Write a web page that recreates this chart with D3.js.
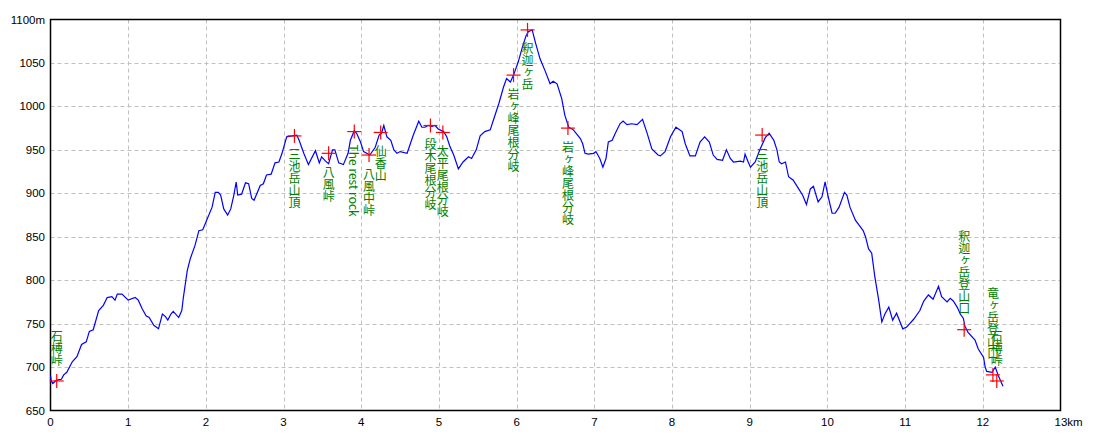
<!DOCTYPE html>
<html><head><meta charset="utf-8">
<script src="https://cdn.jsdelivr.net/npm/d3@7"></script>
<style>
html,body{margin:0;padding:0;background:#fff;}
svg{display:block;}
.tick{font-family:"Liberation Sans",Arial,sans-serif;font-size:11.5px;fill:#000;}
.wp{font-family:"Noto Sans CJK JP",sans-serif;font-size:12px;fill:#008000;writing-mode:vertical-rl;}
</style></head>
<body>
<svg id="c" width="1100" height="440"></svg>
<script>
// profile distance (km)
const distKm = [0.00,0.01,0.03,0.08,0.14,0.17,0.21,0.28,0.34,0.40,0.46,0.50,0.55,0.62,0.68,0.73,0.79,0.83,0.86,0.92,
1.00,1.09,1.13,1.18,1.23,1.27,1.33,1.39,1.44,1.48,1.51,1.55,1.58,1.65,1.69,1.71,1.76,1.80,1.86,1.91,1.96,
2.01,2.08,2.12,2.16,2.19,2.23,2.28,2.32,2.36,2.39,2.41,2.46,2.51,2.55,2.59,2.62,2.70,2.74,2.78,2.84,2.89,2.94,2.98,
3.04,3.11,3.17,3.20,3.26,3.32,3.41,3.46,3.49,3.54,3.58,3.63,3.66,3.71,3.77,3.83,3.86,3.91,3.94,3.99,
4.03,4.11,4.18,4.23,4.26,4.29,4.33,4.38,4.42,4.46,4.50,4.59,4.67,4.74,4.78,4.82,4.86,4.91,4.95,4.99,
5.06,5.10,5.14,5.19,5.25,5.31,5.38,5.42,5.48,5.53,5.59,5.66,5.70,5.77,5.83,5.87,5.92,5.96,
6.02,6.07,6.12,6.15,6.20,6.24,6.30,6.37,6.43,6.47,6.52,6.58,6.62,6.67,6.73,6.82,6.85,6.88,6.92,6.99,
7.02,7.07,7.11,7.15,7.18,7.23,7.27,7.33,7.37,7.42,7.48,7.55,7.62,7.68,7.74,7.82,7.85,7.91,7.98,
8.05,8.13,8.17,8.23,8.30,8.36,8.42,8.48,8.53,8.58,8.65,8.70,8.75,8.79,8.88,8.92,8.94,8.98,
9.01,9.07,9.13,9.20,9.25,9.31,9.35,9.38,9.41,9.46,9.50,9.56,9.63,9.68,9.73,9.78,9.82,9.88,9.93,9.97,
10.01,10.06,10.10,10.15,10.22,10.25,10.29,10.36,10.41,10.46,10.49,10.53,10.57,10.61,10.66,10.70,10.74,10.79,10.84,10.89,10.97,
11.02,11.11,11.19,11.24,11.30,11.36,11.43,11.47,11.54,11.58,11.62,11.67,11.71,11.75,11.77,11.81,11.90,11.94,
12.01,12.03,12.05,12.12,12.16,12.20,12.26];
// profile elevation (m)
const elevM = [690,684,681,685,686,691,694,706,712,726,729,741,743,765,771,780,781,777,784,784,
777,780,777,767,759,757,748,744,761,758,754,761,764,757,765,780,811,825,840,857,858,
869,884,901,901,898,882,875,882,898,913,898,899,912,911,894,892,909,911,921,922,935,936,946,
965,966,967,961,946,933,949,935,942,937,934,950,950,935,933,946,961,972,969,959,
948,944,953,967,969,978,965,961,950,946,948,946,967,983,976,976,978,977,978,974,
971,965,954,944,928,936,942,940,950,966,971,973,984,1003,1022,1032,1028,1036,
1051,1067,1081,1086,1088,1074,1055,1040,1026,1029,1026,1009,990,976,973,963,957,946,945,946,
948,940,930,940,959,961,969,980,983,979,980,979,985,969,951,944,943,948,965,
976,971,957,943,943,959,965,959,944,939,938,950,940,936,937,936,945,936,
930,936,950,964,969,961,950,936,934,936,919,915,905,898,887,905,908,890,896,913,
896,877,877,884,901,898,884,869,863,857,850,836,831,804,777,752,761,769,754,762,744,
746,755,765,776,783,778,793,781,775,779,776,769,761,756,747,740,731,721,
711,700,695,694,700,690,678];
// waypoints
const wpNames = ["石榑峠","三池岳山頂","八風峠","The rest rock","八風中峠","仙香山","段木尾根分岐","太平尾根分岐",
"岩ヶ峰尾根分岐","釈迦ヶ岳","岩ヶ峰尾根分岐","三池岳山頂","釈迦ヶ岳登山口","竜ヶ岳登山口","石榑峠"];
const wpKm = [0.08,3.14,3.58,3.91,4.10,4.25,4.89,5.05,5.96,6.14,6.66,9.16,11.76,12.13,12.18];
const wpElev = [684,966,946,971,944,970,978,970,1036,1088,975,967,743,691,684];
// axis ticks
const xTickVals = [0,1,2,3,4,5,6,7,8,9,10,11,12,13];
const yTickVals = [650,700,750,800,850,900,950,1000,1050,1100];

const svg = d3.select("#c");
const L=50.5, R=1060.5, T=19.5, B=410.5;
const x = d3.scaleLinear().domain([0,13]).range([L,R]);
const y = d3.scaleLinear().domain([650,1100]).range([B,T]);

// grid
const g = svg.append("g");
g.selectAll("line.vx").data(xTickVals.slice(1,-1)).join("line")
  .attr("x1",d=>Math.round(x(d))+0.5).attr("x2",d=>Math.round(x(d))+0.5).attr("y1",T).attr("y2",B)
  .attr("stroke","#c0c0c0").attr("stroke-dasharray","4,3");
g.selectAll("line.hy").data(yTickVals.slice(1,-1)).join("line")
  .attr("y1",d=>Math.round(y(d))+0.5).attr("y2",d=>Math.round(y(d))+0.5).attr("x1",L).attr("x2",R)
  .attr("stroke","#c0c0c0").attr("stroke-dasharray","4,3");

// frame
svg.append("rect").attr("x",L).attr("y",T).attr("width",R-L).attr("height",B-T)
  .attr("fill","none").attr("stroke","#000").attr("stroke-width",1.5);

// x tick labels
svg.selectAll("text.xt").data(xTickVals).join("text").attr("class","tick")
  .attr("x",d=>d===13 ? x(d)-6 : x(d)).attr("y",426)
  .attr("text-anchor",d=>d===13?"start":"middle")
  .text(d=>d===13 ? "13km" : d);
// y tick labels
svg.selectAll("text.yt").data(yTickVals).join("text").attr("class","tick")
  .attr("x",45).attr("y",d=>y(d)+4).attr("text-anchor","end")
  .text(d=>d===1100 ? "1100m" : d);

// profile line
const pts = distKm.map((d,i)=>[d,elevM[i]]);
svg.append("path").datum(pts)
  .attr("d", d3.line().x(d=>x(d[0])).y(d=>y(d[1])))
  .attr("fill","none").attr("stroke","#0000ff").attr("stroke-width",1.2);

// waypoints
const wps = wpNames.map((n,i)=>({n,k:wpKm[i],e:wpElev[i]}));
const wg = svg.append("g");
wps.forEach(w=>{
  const cx = x(w.k), cy = y(w.e);
  wg.append("line").attr("x1",cx-7).attr("x2",cx+7).attr("y1",cy).attr("y2",cy).attr("stroke","#ff0000").attr("stroke-width",1.2);
  wg.append("line").attr("x1",cx).attr("x2",cx).attr("y1",cy-7).attr("y2",cy+7).attr("stroke","#ff0000").attr("stroke-width",1.2);
});
wps.forEach(w=>{
  const cx = x(w.k), cy = y(w.e);
  const above = w.e < 760;
  wg.append("text").attr("class","wp")
    .attr("x",cx).attr("y", above ? cy-15 : cy+13)
    .attr("text-anchor", above ? "end" : "start")
    .text(w.n);
});
</script>
</body></html>
